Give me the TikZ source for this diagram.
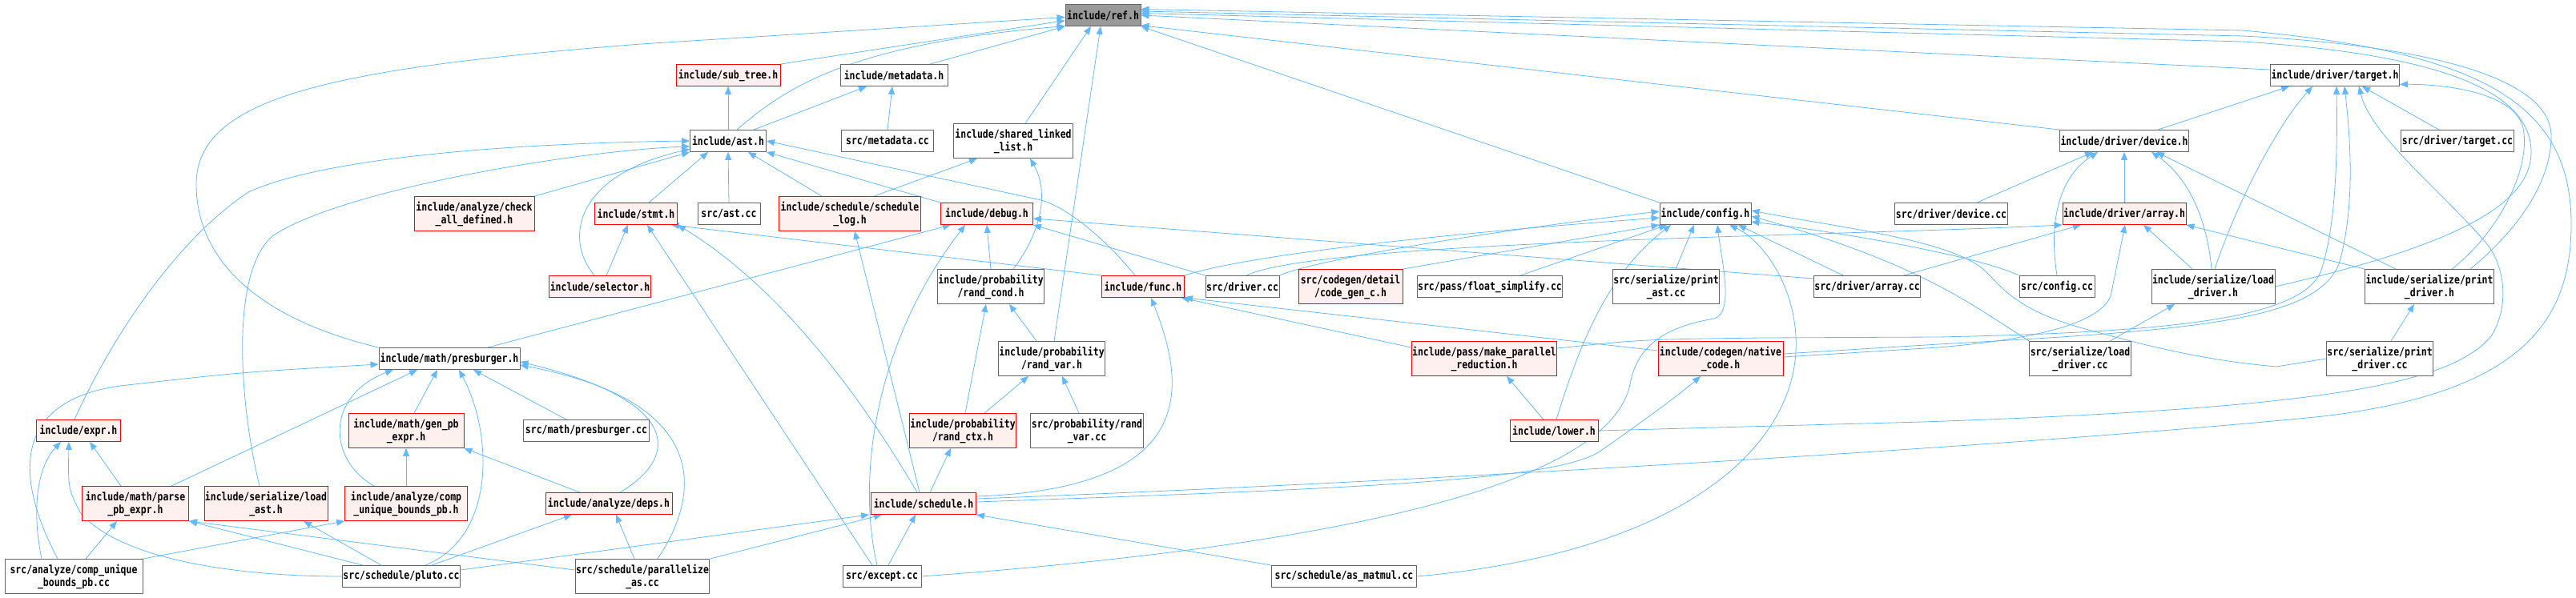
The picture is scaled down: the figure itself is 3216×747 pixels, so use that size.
\documentclass[tikz,border=0pt]{standalone}
\usepackage{fontspec}
\setmonofont[FakeStretch=0.82]{DejaVu Sans Mono}
\usepackage{xcolor}
\usepackage{tikz}
\usetikzlibrary{arrows.meta,backgrounds}
\definecolor{linkblue}{HTML}{63B8FF}
\definecolor{boxline}{HTML}{666666}
\definecolor{redline}{HTML}{FF0000}
\definecolor{redfill}{HTML}{FFF0F0}
\definecolor{rootfill}{HTML}{999999}
\tikzset{
  >={Triangle[length=10pt,width=8pt]},
  file/.style={draw=boxline,fill=white,line width=.9pt,inner xsep=1pt,inner ysep=0pt,minimum height=27pt,align=center,font=\ttfamily\bfseries\fontsize{14}{16}\selectfont},
  deep/.style={file,minimum height=43pt},
  cut/.style={draw=redline,fill=redfill},
  root/.style={fill=rootfill},
  uses/.style={->,draw=linkblue,line width=.8pt},
}

\begin{document}
\begin{tikzpicture}[x=1pt,y=-1pt]
  \useasboundingbox (0,0) rectangle (3216,747);
  \node[file,root,minimum width=94] (ref) at (1377,19) {include/ref.h};
  \node[file,cut,minimum width=130] (subtree) at (909,94) {include/sub\_tree.h};
  \node[file,minimum width=134] (metadata) at (1116,94) {include/metadata.h};
  \node[file,minimum width=149] (target) at (2915,94) {include/driver/target.h};
  \node[file,minimum width=95] (ast) at (909,176) {include/ast.h};
  \node[file,minimum width=115] (metadatacc) at (1108,176) {src/metadata.cc};
  \node[deep,minimum width=149] (sll) at (1265,176) {include/shared\_linked\\\_list.h};
  \node[file,minimum width=154] (device) at (2652,176) {include/driver/device.h};
  \node[file,minimum width=130] (targetcc) at (3068,176) {src/driver/target.cc};
  \node[deep,cut,minimum width=150] (checkdef) at (592,267) {include/analyze/check\\\_all\_defined.h};
  \node[file,cut,minimum width=103] (stmt) at (794,267) {include/stmt.h};
  \node[file,minimum width=78] (astcc) at (910,267) {src/ast.cc};
  \node[deep,cut,minimum width=177] (schedlog) at (1061,267) {include/schedule/schedule\\\_log.h};
  \node[file,cut,minimum width=115] (debug) at (1232,267) {include/debug.h};
  \node[file,minimum width=114] (config) at (2129,267) {include/config.h};
  \node[file,minimum width=135] (devicecc) at (2436,267) {src/driver/device.cc};
  \node[file,cut,minimum width=145] (array) at (2652,267) {include/driver/array.h};
  \node[file,cut,minimum width=124] (selector) at (749,358) {include/selector.h};
  \node[deep,minimum width=128] (randcond) at (1237,358) {include/probability\\/rand\_cond.h};
  \node[file,cut,minimum width=103] (func) at (1427,358) {include/func.h};
  \node[file,minimum width=92] (drivercc) at (1551,358) {src/driver.cc};
  \node[deep,cut,minimum width=130] (codegenc) at (1686,358) {src/codegen/detail\\/code\_gen\_c.h};
  \node[file,minimum width=168] (floatsimp) at (1860,358) {src/pass/float\_simplify.cc};
  \node[deep,minimum width=121] (printast) at (2080,358) {src/serialize/print\\\_ast.cc};
  \node[file,minimum width=127] (arraycc) at (2331,358) {src/driver/array.cc};
  \node[file,minimum width=94] (configcc) at (2568,358) {src/config.cc};
  \node[deep,minimum width=145] (loaddrv) at (2763,358) {include/serialize/load\\\_driver.h};
  \node[deep,minimum width=146] (printdrv) at (3033,358) {include/serialize/print\\\_driver.h};
  \node[file,minimum width=176] (presb) at (561,448) {include/math/presburger.h};
  \node[deep,minimum width=127] (randvar) at (1313,448) {include/probability\\/rand\_var.h};
  \node[deep,cut,minimum width=181] (mpr) at (1853,448) {include/pass/make\_parallel\\\_reduction.h};
  \node[deep,cut,minimum width=156] (native) at (2148,448) {include/codegen/native\\\_code.h};
  \node[deep,minimum width=120] (loaddrvcc) at (2597,448) {src/serialize/load\\\_driver.cc};
  \node[deep,minimum width=120] (printdrvcc) at (2971,448) {src/serialize/print\\\_driver.cc};
  \node[file,cut,minimum width=105] (expr) at (98,538) {include/expr.h};
  \node[deep,cut,minimum width=144] (genpb) at (507,538) {include/math/gen\_pb\\\_expr.h};
  \node[file,minimum width=157] (presbcc) at (732,538) {src/math/presburger.cc};
  \node[deep,cut,minimum width=128] (randctx) at (1202,538) {include/probability\\/rand\_ctx.h};
  \node[deep,minimum width=133] (randvarcc) at (1357,538) {src/probability/rand\\\_var.cc};
  \node[file,cut,minimum width=110] (lower) at (1940,538) {include/lower.h};
  \node[deep,cut,minimum width=133] (parsepb) at (169,629) {include/math/parse\\\_pb\_expr.h};
  \node[deep,cut,minimum width=145] (loadast) at (332,629) {include/serialize/load\\\_ast.h};
  \node[deep,cut,minimum width=153] (cubpbh) at (507,629) {include/analyze/comp\\\_unique\_bounds\_pb.h};
  \node[file,cut,minimum width=158] (deps) at (760,629) {include/analyze/deps.h};
  \node[file,cut,minimum width=131] (schedule) at (1153,629) {include/schedule.h};
  \node[deep,minimum width=172] (cubpbcc) at (92,720) {src/analyze/comp\_unique\\\_bounds\_pb.cc};
  \node[file,minimum width=146] (pluto) at (501,720) {src/schedule/pluto.cc};
  \node[deep,minimum width=159] (parallel) at (802,720) {src/schedule/parallelize\\\_as.cc};
  \node[file,minimum width=98] (except) at (1101,720) {src/except.cc};
  \node[file,minimum width=181] (asmatmul) at (1678,720) {src/schedule/as\_matmul.cc};
  \begin{scope}[on background layer]
    \draw[uses] (presb.north west) .. controls (330,400) and (245,330) .. (245,230) .. controls (245,120) and (420,85) .. (800,55) -- (ref.183);
    \draw[uses] (subtree.north east) -- (ref.188);
    \draw[uses] ([xshift=11pt]ast.north) .. controls (980,110) and (1060,55) .. (ref.196);
    \draw[uses] ([xshift=45pt]metadata.north) -- (ref.south west);
    \draw[uses] ([xshift=15pt]sll.north) -- ([xshift=-15pt]ref.south);
    \draw[uses] ([xshift=3pt]randvar.north) -- ([xshift=-3pt]ref.south);
    \draw[uses] (config.north west) -- (ref.south east);
    \draw[uses] (device.north west) -- (ref.345);
    \draw[uses] ([yshift=7pt]target.west) -- (ref.east);
    \draw[uses] (loaddrv.east) .. controls (3050,310) and (3160,260) .. (3160,190) .. controls (3160,100) and (3000,65) .. (2800,52) -- (ref.3);
    \draw[uses] ([xshift=51pt]printdrv.north) .. controls (3140,290) and (3185,230) .. (3185,170) .. controls (3185,90) and (3000,55) .. (2800,45) -- (ref.6);
    \draw[uses] ([yshift=6pt]schedule.east) .. controls (1700,605) and (2500,560) .. (2900,520) .. controls (3150,490) and (3210,400) .. (3210,280) .. controls (3210,130) and (3100,65) .. (2800,38) -- (ref.9);
    \draw[uses] (ast.north) -- (subtree.south);
    \draw[uses] ([xshift=32pt]ast.north) -- ([xshift=-34pt]metadata.south);
    \draw[uses] (metadatacc.north) -- ([xshift=-2pt]metadata.south);
    \draw[uses] ([xshift=42pt]device.north) -- ([xshift=-57pt]target.south);
    \draw[uses] ([xshift=-23pt]targetcc.north) -- ([xshift=34pt]target.south);
    \draw[uses] (checkdef.north east) -- (ast.south west);
    \draw[uses] ([xshift=16pt]stmt.north) -- ([xshift=-25pt]ast.south);
    \draw[uses] (astcc.north) -- (ast.south);
    \draw[uses] ([xshift=-35pt]schedlog.north) -- ([xshift=25pt]ast.south);
    \draw[uses] ([xshift=30pt]schedlog.north) -- ([xshift=-45pt]sll.south);
    \draw[uses] (debug.north west) -- (ast.south east);
    \draw[uses] ([xshift=32pt]devicecc.north) -- ([xshift=-39pt]device.south);
    \draw[uses] (array.north) -- (device.south);
    \draw[uses] ([xshift=-7pt]selector.north) .. controls (705,300) and (715,220) .. (ast.192);
    \draw[uses] ([xshift=8pt]selector.north) -- ([xshift=-10pt]stmt.south);
    \draw[uses] (randcond.north) -- (debug.south);
    \draw[uses] ([xshift=28pt]randcond.north) .. controls (1300,290) and (1310,240) .. ([xshift=21pt]sll.south);
    \draw[uses] (func.north west) -- ([xshift=-8pt]stmt.south east);
    \draw[uses] ([xshift=-10pt]func.north) .. controls (1390,310) and (1340,262) .. (1300,250) -- (ast.east);
    \draw[uses] (func.north east) .. controls (1560,318) and (1800,292) .. ([yshift=-5pt]config.west);
    \draw[uses] (drivercc.north west) -- (debug.south east);
    \draw[uses] (drivercc.north east) .. controls (1640,325) and (1850,290) .. ([yshift=3pt]config.west);
    \draw[uses] ([xshift=5pt]drivercc.north) .. controls (1650,300) and (2300,295) .. (array.south west);
    \draw[uses] (codegenc.north east) -- (config.south west);
    \draw[uses] ([xshift=38pt]floatsimp.north) -- ([xshift=-48pt]config.south);
    \draw[uses] ([xshift=12pt]printast.north) -- ([xshift=-14pt]config.south);
    \draw[uses] ([xshift=-30pt]arraycc.north) -- ([xshift=41pt]config.south);
    \draw[uses] ([yshift=10pt]arraycc.west) -- ([yshift=-6pt]debug.east);
    \draw[uses] ([xshift=46pt]arraycc.north) -- ([xshift=-54pt]array.south);
    \draw[uses] (configcc.north west) .. controls (2470,320) and (2300,290) .. (config.350);
    \draw[uses] (configcc.north) .. controls (2555,260) and (2580,215) .. ([xshift=-33pt]device.south);
    \draw[uses] ([xshift=-26pt]loaddrv.north) -- ([xshift=24pt]array.south);
    \draw[uses] ([xshift=-2pt]loaddrv.north) .. controls (2755,270) and (2730,220) .. ([xshift=34pt]device.south);
    \draw[uses] ([xshift=2pt]loaddrv.north) .. controls (2790,260) and (2840,160) .. ([xshift=-28pt]target.south);
    \draw[uses] (printdrv.north west) -- (array.south east);
    \draw[uses] ([xshift=-42pt]printdrv.north) -- ([xshift=40pt]device.south);
    \draw[uses] ([xshift=28pt]printdrv.north) .. controls (3120,290) and (3160,210) .. (3150,160) .. controls (3140,115) and (3050,105) .. (target.352);
    \draw[uses] ([xshift=48pt]presb.north) -- ([xshift=-45pt]debug.south);
    \draw[uses] ([xshift=-19pt]randvar.north) -- ([xshift=23pt]randcond.south);
    \draw[uses] ([yshift=14pt]mpr.west) -- ([xshift=-4pt]func.south east);
    \draw[uses] ([yshift=13pt]mpr.east) .. controls (2050,424) .. (2200,422) -- (2420,421) .. controls (2700,415) and (2870,400) .. (2897,340) .. controls (2918,280) and (2918,180) .. ([xshift=2pt]target.south);
    \draw[uses] ([yshift=10pt]native.west) -- (func.south east);
    \draw[uses] ([yshift=6pt]native.east) -- (2420,430) .. controls (2750,412) and (2890,400) .. (2920,330) .. controls (2940,260) and (2935,180) .. ([xshift=12pt]target.south);
    \draw[uses] ([yshift=2pt]native.east) -- (2420,434) .. controls (2560,422) and (2622,400) .. (2635,370) -- ([xshift=1pt]array.south);
    \draw[uses] ([xshift=37pt]loaddrvcc.north) -- ([xshift=-48pt]loaddrv.south);
    \draw[uses] (loaddrvcc.north west) .. controls (2460,380) and (2400,330) .. ([yshift=-3pt]config.east);
    \draw[uses] ([xshift=14pt]printdrvcc.north) -- ([xshift=-19pt]printdrv.south);
    \draw[uses] (printdrvcc.west) -- (2842,458) .. controls (2750,450) and (2680,432) .. (2600,410) .. controls (2520,388) and (2500,360) .. (2480,340) .. controls (2440,300) and (2300,285) .. ([yshift=4pt]config.east);
    \draw[uses] ([xshift=-5pt]expr.north) .. controls (140,420) and (220,300) .. (310,240) .. controls (420,190) and (700,178) .. (ast.west);
    \draw[uses] ([xshift=10pt]genpb.north) -- ([xshift=-15pt]presb.south);
    \draw[uses] ([xshift=-25pt]presbcc.north) -- ([xshift=30pt]presb.south);
    \draw[uses] ([xshift=3pt]randctx.north) -- ([xshift=-6pt]randcond.south);
    \draw[uses] ([xshift=27pt]randctx.north) -- ([xshift=-29pt]randvar.south);
    \draw[uses] ([xshift=-10pt]randvarcc.north) -- ([xshift=13pt]randvar.south);
    \draw[uses] ([xshift=-13pt]lower.north) -- ([xshift=28pt]mpr.south);
    \draw[uses] ([xshift=3pt]lower.north) .. controls (1975,420) and (2010,340) .. ([xshift=-43pt]config.south);
    \draw[uses] (lower.east) -- (2400,527) .. controls (2900,510) and (3060,480) .. (3110,420) .. controls (3135,380) and (3125,330) .. (3105,305) .. controls (3050,240) and (2960,170) .. ([xshift=30pt]target.south);
    \draw[uses] ([xshift=-18pt]parsepb.north) -- ([xshift=14pt]expr.south);
    \draw[uses] ([xshift=45pt]parsepb.north) -- ([xshift=-40pt]presb.south);
    \draw[uses] ([xshift=-8pt]loadast.north) .. controls (298,500) and (288,340) .. (340,295) .. controls (420,240) and (700,190) .. (ast.188);
    \draw[uses] (cubpbh.north) -- (genpb.south);
    \draw[uses] ([xshift=-40pt]cubpbh.north) .. controls (410,575) and (405,495) .. ([xshift=-70pt]presb.south);
    \draw[uses] ([xshift=-36pt]deps.north) -- (genpb.south east);
    \draw[uses] ([xshift=14pt]deps.north) .. controls (850,570) and (850,500) .. ([yshift=-4pt]presb.east);
    \draw[uses] ([xshift=8pt]schedule.north) -- ([xshift=-15pt]randctx.south);
    \draw[uses] ([xshift=-5pt]schedule.north) -- ([xshift=6pt]schedlog.south);
    \draw[uses] ([xshift=-8pt]schedule.north) .. controls (1060,470) and (960,350) .. (stmt.south east);
    \draw[uses] ([yshift=9pt]schedule.east) .. controls (1500,610) and (1480,480) .. ([xshift=10pt]func.south);
    \draw[uses] ([yshift=2pt]schedule.east) .. controls (1700,610) and (1950,600) .. (2000,562) .. controls (2060,520) and (2100,490) .. ([xshift=-25pt]native.south);
    \draw[uses] ([xshift=-40pt]cubpbcc.north) .. controls (40,640) and (45,585) .. ([xshift=-22pt]expr.south);
    \draw[uses] ([xshift=-20pt]cubpbcc.north) .. controls (15,590) and (20,500) .. (150,482) .. controls (300,465) .. ([yshift=-7pt]presb.west);
    \draw[uses] ([xshift=15pt]cubpbcc.north) -- ([xshift=-23pt]parsepb.south);
    \draw[uses] (cubpbcc.north east) -- (cubpbh.south west);
    \draw[uses] ([xshift=-48pt]pluto.north) -- (parsepb.south east);
    \draw[uses] ([xshift=-25pt]pluto.north) -- ([xshift=47pt]loadast.south);
    \draw[uses] ([xshift=38pt]pluto.north) -- ([xshift=-46pt]deps.south);
    \draw[uses] ([xshift=30pt]pluto.north) .. controls (620,670) and (615,540) .. ([xshift=12pt]presb.south);
    \draw[uses] (pluto.west) .. controls (300,720) and (150,700) .. (100,640) .. controls (85,610) .. ([xshift=-12pt]expr.south);
    \draw[uses] ([yshift=8pt]pluto.east) -- ([xshift=-68pt]schedule.south);
    \draw[uses] ([yshift=8pt]parallel.west) -- (parsepb.south east);
    \draw[uses] ([xshift=-10pt]parallel.north) -- ([xshift=9pt]deps.south);
    \draw[uses] (parallel.north east) -- ([xshift=-52pt]schedule.south);
    \draw[uses] ([xshift=19pt]parallel.north) .. controls (880,610) and (880,500) .. ([yshift=-8pt]presb.east);
    \draw[uses] ([xshift=-12pt]except.north) -- ([xshift=14pt]stmt.south);
    \draw[uses] ([xshift=-6pt]except.north) .. controls (1070,600) and (1090,430) .. ([xshift=-27pt]debug.south);
    \draw[uses] ([xshift=8pt]except.north) -- ([xshift=-10pt]schedule.south);
    \draw[uses] (except.east) .. controls (1700,680) and (2010,600) .. (2035,480) .. controls (2045,420) and (2100,405) .. (2140,398) .. controls (2165,390) and (2150,330) .. ([xshift=15pt]config.south);
    \draw[uses] (asmatmul.north west) -- (schedule.south east);
    \draw[uses] (asmatmul.east) .. controls (2100,690) and (2235,560) .. (2242,440) .. controls (2246,360) and (2200,300) .. ([xshift=30pt]config.south);
  \end{scope}
\end{tikzpicture}
\end{document}
